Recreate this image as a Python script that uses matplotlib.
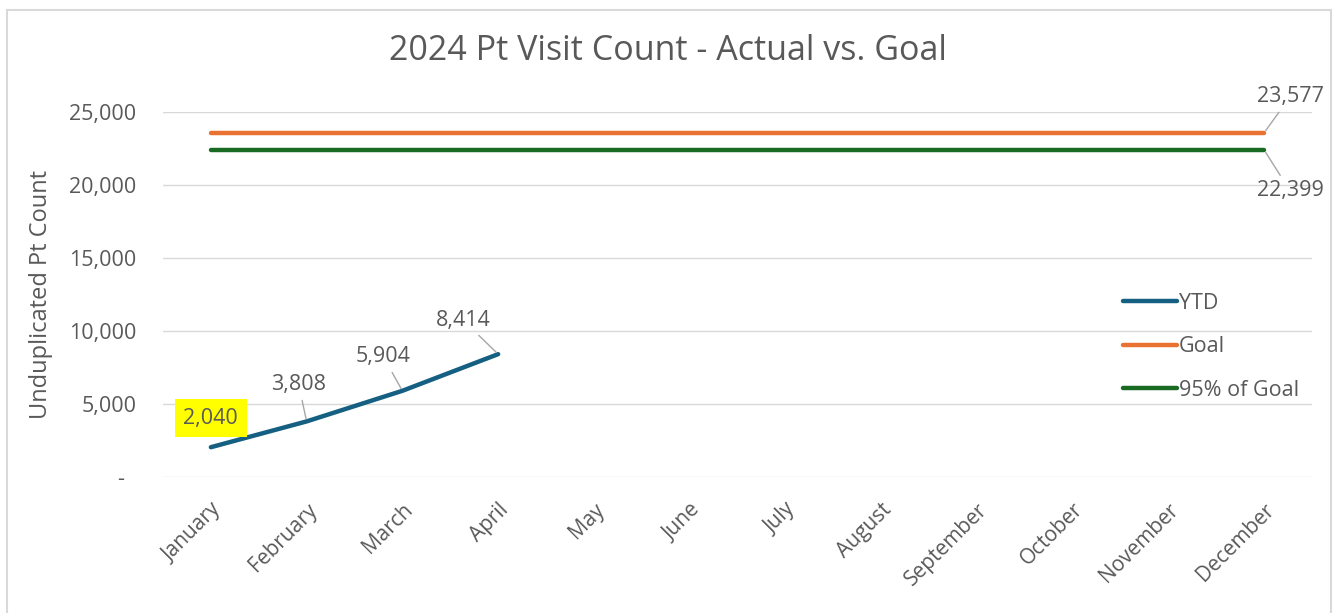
import matplotlib.pyplot as plt
from matplotlib.patches import Rectangle
from matplotlib.ticker import FuncFormatter

months = ["January", "February", "March", "April", "May", "June", "July",
          "August", "September", "October", "November", "December"]
ytd = [2040, 3808, 5904, 8414]
goal = [23577] * 12
goal95 = [22399] * 12

plt.rcParams["font.family"] = ["Open Sans", "DejaVu Sans"]
gray = "#595959"
fs = 15.5

fig = plt.figure(figsize=(13.36, 6.13), dpi=100)
ax = fig.add_axes([163 / 1336, 1 - 477 / 613, (1312 - 163) / 1336, (477 - 112) / 613])

x = list(range(len(months)))
ax.plot(x[:len(ytd)], ytd, color="#156082", lw=3.2, solid_capstyle="round", label="YTD")
ax.plot(x, goal, color="#E97132", lw=3.2, solid_capstyle="round", label="Goal")
ax.plot(x, goal95, color="#196B24", lw=3.2, solid_capstyle="round", label="95% of Goal")

ax.set_xlim(-0.5, 11.5)
ax.set_ylim(0, 25000)
ax.set_yticks(range(0, 25001, 5000))
ax.yaxis.set_major_formatter(FuncFormatter(lambda v, p: "-  " if v == 0 else f"{int(v):,}"))
ax.set_xticks(x)
ax.set_xticklabels(months, rotation=45, ha="right", rotation_mode="anchor", fontsize=15, color=gray)
ax.tick_params(axis="y", labelsize=fs, colors=gray, length=0, pad=19)
ax.tick_params(axis="x", length=0, pad=16)
ax.grid(axis="y", color="#d9d9d9", lw=1)
ax.set_axisbelow(True)
for s in ax.spines.values():
    s.set_visible(False)

ax.set_ylabel("Unduplicated Pt Count", fontsize=17, color=gray, labelpad=12)
fig.text(0.5, 1 - 51 / 613, "2024 Pt Visit Count - Actual vs. Goal", ha="center", va="center",
         fontsize=24.5, color=gray)

lbl = dict(textcoords="offset pixels", ha="center", va="center", fontsize=fs, color=gray)
arrow = dict(arrowstyle="-", color="#a6a6a6", lw=1, shrinkA=2, shrinkB=2)
ytd_offsets = [(0, 29), (-8, 37), (-19, 34), (-35, 34)]
for i, (v, off) in enumerate(zip(ytd, ytd_offsets)):
    if i == 0:
        ax.annotate(f"{v:,}", (i, v), xytext=off, **lbl,
                    bbox=dict(boxstyle="square,pad=0.4", fc="#FFFF00", ec="none"))
    else:
        ax.annotate(f"{v:,}", (i, v), xytext=off, arrowprops=arrow, **lbl)
ax.annotate(f"{goal[-1]:,}", (11, goal[-1]), xytext=(26, 36), arrowprops=arrow, **lbl)
ax.annotate(f"{goal95[-1]:,}", (11, goal95[-1]), xytext=(26, -41), arrowprops=arrow, **lbl)

leg = ax.legend(loc="upper left", bbox_to_anchor=(1112 / 1336, 1 - 282 / 613),
                bbox_transform=fig.transFigure, frameon=False, fontsize=fs,
                handlelength=2.5, handletextpad=0.1, labelspacing=1.05, borderpad=0)
for t in leg.get_texts():
    t.set_color(gray)

fig.patches.append(Rectangle((7 / 1336, -0.05), (1331 - 7) / 1336, 1.05 - 10 / 613,
                             transform=fig.transFigure, fill=False, ec="#d9d9d9", lw=1.5))

fig.savefig("out.png", dpi=100)
